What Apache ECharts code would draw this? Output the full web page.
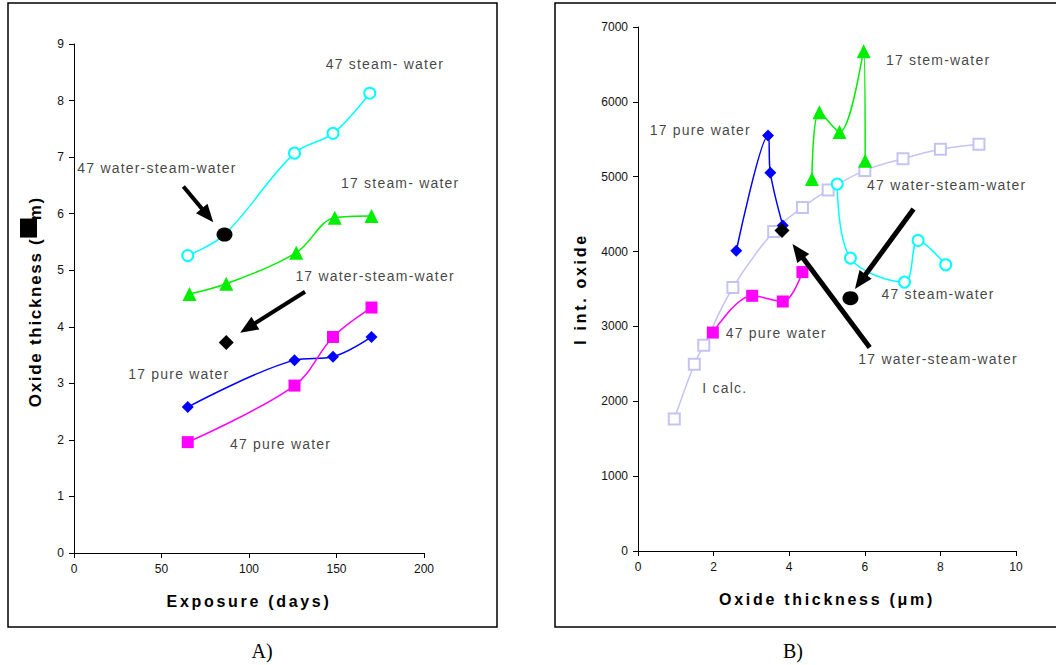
<!DOCTYPE html>
<html>
<head>
<meta charset="utf-8">
<script src="https://cdn.jsdelivr.net/npm/echarts@6/dist/echarts.min.js"></script>
<style>
  html, body { margin: 0; padding: 0; background: #fff; }
  #chart { width: 1056px; height: 665px; }
  /* the source figure draws its labels slightly spread out */
  #chart text[style*="14px"] { letter-spacing: 1.2px; }
  #chart text[style*="16px"] { letter-spacing: 2.7px; }
  #chart text[style*="17px"] { letter-spacing: 1.7px; }
</style>
</head>
<body>
<div id="chart"></div>
<script>
// ---- A) oxide thickness vs exposure ----
const aSteam47Days = [65, 86, 126, 148, 169];
const aSteam47Ox = [5.26, 5.63, 7.07, 7.42, 8.13];
const aSteam17Days = [66, 87, 127, 149, 170];
const aSteam17Ox = [4.58, 4.76, 5.31, 5.93, 5.96];
const aPure17Days = [65, 126, 148, 170];
const aPure17Ox = [2.58, 3.41, 3.47, 3.82];
const aPure47Days = [65, 126, 148, 170];
const aPure47Ox = [1.96, 2.96, 3.82, 4.34];
const aWsw47 = [86, 5.63];
const aWsw17 = [87, 3.72];
const aNotes = [
  [143.8, 8.64, '47 steam- water'],
  [1.9, 6.80, '47 water-steam-water'],
  [152.6, 6.55, '17 steam- water'],
  [126.5, 4.89, '17 water-steam-water'],
  [31, 3.16, '17 pure water'],
  [89.1, 1.93, '47 pure water']
];
// arrows : [start, arrowhead centre]
const aArrows = [
  [[62.5, 6.48], [76.3, 5.97]],
  [[132, 4.62], [99.3, 3.98]]
];

// ---- B) I int. oxide vs oxide thickness ----
const bCalcOx = [0.96, 1.49, 1.74, 2.51, 3.59, 4.35, 5.03, 6.0, 7.01, 8.0, 9.02];
const bCalcI = [1765, 2496, 2750, 3520, 4269, 4590, 4822, 5084, 5241, 5366, 5434];
const bPure17Ox = [2.60, 3.44, 3.50, 3.83];
const bPure17I = [4011, 5552, 5053, 4349];
const bSteam17Ox = [4.60, 4.80, 5.33, 5.97, 6.01];
const bSteam17I = [4969, 5860, 5597, 6675, 5214];
const bSteam47Ox = [5.27, 5.62, 7.05, 7.41, 8.14];
const bSteam47I = [4902, 3913, 3592, 4148, 3824];
const bPure47Ox = [1.98, 3.02, 3.83, 4.35];
const bPure47I = [2918, 3409, 3333, 3726];
const bWsw47 = [5.62, 3378];
const bWsw17 = [3.81, 4282];
const bNotes = [
  [6.56, 6564, '17 stem-water'],
  [0.31, 5628, '17 pure water'],
  [6.06, 4893, '47 water-steam-water'],
  [6.44, 3432, '47 steam-water'],
  [2.32, 2910, '47 pure water'],
  [5.83, 2567, '17 water-steam-water'],
  [1.70, 2183, 'I calc.']
];
const bArrows = [
  [[7.29, 4568], [5.88, 3598]],
  [[6.13, 2718], [4.23, 4005]]
];

const FONT = 'Liberation Sans, Arial, sans-serif';
const Y_NAME_SPACING = 1.7; // doit suivre la règle css "17px"

function pairs(xs, ys) {
  return xs.map((x, i) => [x, ys[i]]);
}

// largeur d'un texte une fois espacé par le css
function spacedWidth(text, font, spacing) {
  const ctx = document.createElement('canvas').getContext('2d');
  ctx.font = font;
  return ctx.measureText(text).width + text.length * spacing;
}

// courbe lissée avec marqueurs
function curve(idx, xs, ys, color, symbol, size, z) {
  const hollow = symbol.indexOf('empty') === 0;
  return {
    type: 'line',
    xAxisIndex: idx,
    yAxisIndex: idx,
    data: pairs(xs, ys),
    smooth: 0.35,
    symbol: symbol,
    symbolSize: size,
    showAllSymbol: true,
    z: z || 2,
    lineStyle: { color: color, width: 1.5 },
    itemStyle: hollow
      ? { color: color, borderColor: color, borderWidth: 1.5 }
      : { color: color, borderWidth: 0 }
  };
}

// point noir isolé, avec sa flèche
function blackPoint(idx, pt, symbol, size, arrow, arrowWidth) {
  return {
    type: 'scatter',
    xAxisIndex: idx,
    yAxisIndex: idx,
    data: [pt],
    symbol: symbol,
    symbolSize: size,
    z: 5,
    itemStyle: { color: '#000', opacity: 1 },
    markLine: {
      silent: true,
      animation: false,
      symbol: ['none', 'triangle'],
      symbolSize: [15, 18],
      label: { show: false },
      lineStyle: { color: '#000', width: arrowWidth, type: 'solid', opacity: 1 },
      emphasis: { disabled: true },
      data: [[{ coord: arrow[0] }, { coord: arrow[1] }]]
    }
  };
}

function notes(idx, list) {
  return {
    type: 'scatter',
    xAxisIndex: idx,
    yAxisIndex: idx,
    silent: true,
    symbolSize: 0,
    z: 6,
    itemStyle: { color: 'transparent' },
    data: list.map(([x, y, t]) => ({ value: [x, y], name: t })),
    label: {
      show: true,
      position: 'right',
      distance: 0,
      formatter: (p) => p.name,
      fontFamily: FONT,
      fontSize: 14,
      color: '#111'
    }
  };
}

function valueAxis(grid, min, max, interval, name, nameGap, extra) {
  return Object.assign({
    type: 'value',
    gridIndex: grid,
    min: min,
    max: max,
    interval: interval,
    name: name,
    nameLocation: 'middle',
    nameGap: nameGap,
    nameTextStyle: { fontFamily: FONT, fontSize: 16, fontWeight: 'bold', color: '#000' },
    axisLine: { show: true, onZero: false, lineStyle: { color: '#000', width: 1 } },
    axisTick: { show: true, length: 5, lineStyle: { color: '#000' } },
    axisLabel: { fontFamily: FONT, fontSize: 12, color: '#111', margin: 10, formatter: (v) => String(v) },
    splitLine: { show: false }
  }, extra || {});
}

// titre de l'axe y de A) : le μ y est rendu comme un pavé noir
const yTitleHead = 'Oxide thickness (';
const yTitleStyle = { fontFamily: FONT, fontSize: 17, fontWeight: 'bold', color: '#000', lineHeight: 30 };
const yTitleName = {
  name: '{a|' + yTitleHead + '}{box|\u03bc}{a|m)}',
  nameTextStyle: {
    fontFamily: FONT, fontSize: 17, fontWeight: 'bold', color: '#000',
    padding: [0, 8, 0, 0],
    rich: {
      a: yTitleStyle,
      head: yTitleStyle,
      box: { backgroundColor: '#000', color: '#000', width: 19, height: 17, verticalAlign: 'top', align: 'center', fontSize: 12 }
    }
  }
};
yTitleName.nameTextStyle.rich.a = Object.assign({}, yTitleStyle);
yTitleName.name = '{head|' + yTitleHead + '}{box|\u03bc}{a|m)}';
yTitleName.nameTextStyle.rich.head = Object.assign({}, yTitleStyle, {
  width: spacedWidth(yTitleHead, 'bold 17px ' + FONT, Y_NAME_SPACING)
});

const chart = echarts.init(document.getElementById('chart'), null, { renderer: 'svg' });

const option = {
  animation: false,
  backgroundColor: '#fff',
  grid: [
    { left: 74, top: 44, width: 350, height: 509 },
    { left: 638, top: 27, width: 378, height: 524 }
  ],
  xAxis: [
    valueAxis(0, 0, 200, 50, 'Exposure (days)', 40),
    valueAxis(1, 0, 10, 2, 'Oxide thickness (\u03bcm)', 40)
  ],
  yAxis: [
    valueAxis(0, 0, 9, 1, yTitleName.name, 24, { nameTextStyle: yTitleName.nameTextStyle }),
    valueAxis(1, 0, 7000, 1000, 'I int. oxide', 50)
  ],
  graphic: [
    { type: 'rect', shape: { x: 8, y: 3, width: 489, height: 624 },
      style: { fill: 'none', stroke: '#000', lineWidth: 1.5 }, silent: true },
    { type: 'rect', shape: { x: 555, y: 3, width: 520, height: 624 },
      style: { fill: 'none', stroke: '#000', lineWidth: 1.5 }, silent: true },
    { type: 'text', x: 262, y: 651,
      style: { text: 'A)', font: '20px "Liberation Serif", "Times New Roman", serif', fill: '#000', align: 'center', verticalAlign: 'middle' } },
    { type: 'text', x: 793, y: 651,
      style: { text: 'B)', font: '20px "Liberation Serif", "Times New Roman", serif', fill: '#000', align: 'center', verticalAlign: 'middle' } }
  ],
  series: [
    // A)
    curve(0, aSteam47Days, aSteam47Ox, '#00ffff', 'emptyCircle', 11),
    curve(0, aSteam17Days, aSteam17Ox, '#00ee00', 'triangle', 14),
    curve(0, aPure17Days, aPure17Ox, '#0000ff', 'diamond', 12),
    curve(0, aPure47Days, aPure47Ox, '#ff00ff', 'rect', 12),
    blackPoint(0, aWsw47, 'circle', [16, 14], aArrows[0], 4),
    blackPoint(0, aWsw17, 'diamond', 15, aArrows[1], 4),
    notes(0, aNotes),
    // B)
    curve(1, bCalcOx, bCalcI, '#c4c4f4', 'emptyRect', 11, 1),
    curve(1, bPure17Ox, bPure17I, '#0000ff', 'diamond', 12),
    curve(1, bSteam17Ox, bSteam17I, '#00ee00', 'triangle', 14),
    curve(1, bSteam47Ox, bSteam47I, '#00ffff', 'emptyCircle', 11),
    curve(1, bPure47Ox, bPure47I, '#ff00ff', 'rect', 12),
    blackPoint(1, bWsw47, 'circle', [16, 14], bArrows[0], 5),
    blackPoint(1, bWsw17, 'diamond', 15, bArrows[1], 5),
    notes(1, bNotes)
  ]
};

chart.setOption(option);
</script>
</body>
</html>
